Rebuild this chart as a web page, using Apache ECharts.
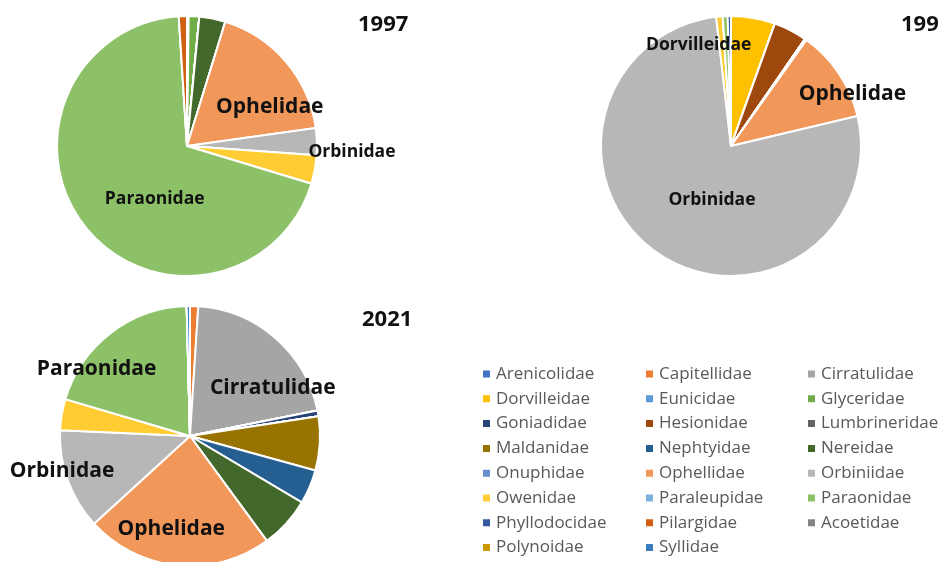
<!DOCTYPE html>
<html>
<head>
<meta charset="utf-8">
<script src="https://cdn.jsdelivr.net/npm/echarts@6/dist/echarts.min.js"></script>
<style>
  html, body { margin: 0; padding: 0; background: #fff; }
  #chart { width: 940px; height: 562px; }
</style>
</head>
<body>
<div id="chart"></div>
<script>
// families, in the order the slices run (clockwise from 12 o'clock)
var categories = [
  "Arenicolidae", "Capitellidae", "Cirratulidae", "Dorvilleidae", "Eunicidae",
  "Glyceridae", "Goniadidae", "Hesionidae", "Lumbrineridae", "Maldanidae",
  "Nephtyidae", "Nereidae", "Onuphidae", "Ophellidae", "Orbiniidae",
  "Owenidae", "Paraleupidae", "Paraonidae", "Phyllodocidae", "Pilargidae",
  "Acoetidae", "Polynoidae", "Syllidae"
];
var colors = [
  "#4472C4", "#ED7D31", "#A5A5A5", "#FFC000", "#5B9BD5",
  "#70AD47", "#264478", "#9E480E", "#636363", "#997300",
  "#255E91", "#43682B", "#698ED0", "#F1975A", "#B7B7B7",
  "#FFCD33", "#7CAFDD", "#8CC168", "#335AA1", "#D26012",
  "#848484", "#CC9A00", "#3A7CC0"
];

// share of individuals (%)
var values1997 = [0, 0, 0, 0.2, 0, 1.3, 0, 0, 0, 0, 0, 3.2, 0, 17.8, 3.3, 3.5, 0, 68.4, 0, 1.0, 0, 0, 0];
var values199x = [0, 0, 0, 5.4, 0, 0, 0, 4.1, 0, 0, 0, 0, 0.2, 11.3, 75.8, 0.8, 0, 0.6, 0.4, 0, 0, 0, 0];
var values2021 = [0, 1.0, 20.5, 0, 0, 0, 0.7, 0, 0, 6.6, 4.2, 6.3, 0, 22.9, 12.3, 3.8, 0, 19.7, 0, 0, 0, 0, 0.4];

// slice labels as written on the figure
var labels1997 = { Ophellidae: "Ophelidae", Orbiniidae: "Orbinidae", Paraonidae: "Paraonidae" };
var labels199x = { Dorvilleidae: "Dorvilleidae", Ophellidae: "Ophelidae", Orbiniidae: "Orbinidae" };
var labels2021 = { Paraonidae: "Paraonidae", Cirratulidae: "Cirratulidae", Orbiniidae: "Orbinidae", Ophellidae: "Ophelidae" };

var titles = ["1997", "199", "2021"];

var FONT = "'Open Sans', 'DejaVu Sans', sans-serif";

function buildData(values, labels, sizes) {
  return categories.map(function (name, i) {
    var item = { name: name, value: values[i] };
    if (labels[name]) {
      item.label = {
        show: true,
        position: "inside",
        formatter: labels[name],
        fontSize: sizes[name],
        fontWeight: "bold",
        fontFamily: FONT,
        color: "#111"
      };
    }
    return item;
  });
}

// label nudges, so text sits where it sits on the figure
function shift(offsets) {
  return function (params) {
    var o = offsets[categories[params.dataIndex]];
    return o ? { dx: o[0], dy: o[1] } : {};
  };
}

function pie(center, values, labels, sizes, offsets) {
  return {
    type: "pie",
    center: center,
    radius: 130,
    startAngle: 90,
    clockwise: true,
    avoidLabelOverlap: false,
    label: { show: false },
    labelLine: { show: false },
    emphasis: { disabled: true },
    itemStyle: { borderColor: "#fff", borderWidth: 2 },
    labelLayout: shift(offsets),
    data: buildData(values, labels, sizes)
  };
}

// three legend columns, filled row by row like the original
var columns = [[], [], []];
categories.forEach(function (name, i) { columns[i % 3].push(name); });
var legendLefts = [481, 644, 806];

var chart = echarts.init(document.getElementById("chart"), null, { renderer: "canvas" });
chart.setOption({
  animation: false,
  color: colors,
  title: [
    { text: titles[0], left: 353, top: 9 },
    { text: titles[1], left: 896, top: 9 },
    { text: titles[2], left: 357, top: 304 }
  ].map(function (t) {
    t.textStyle = { fontSize: 22, fontWeight: "bold", fontFamily: FONT, color: "#111" };
    return t;
  }),
  legend: columns.map(function (col, k) {
    return {
      orient: "vertical",
      left: legendLefts[k],
      top: 364,
      height: 230,
      padding: 0,
      itemWidth: 9,
      itemHeight: 9,
      itemGap: 4.8,
      icon: "rect",
      selectedMode: false,
      data: col,
      textStyle: { fontSize: 17, fontFamily: FONT, color: "#595959", lineHeight: 20 }
    };
  }),
  series: [
    pie([187, 146], values1997, labels1997,
      { Ophellidae: 21, Orbiniidae: 17.5, Paraonidae: 17.5 },
      { Ophellidae: [31, 5], Orbiniidae: [97, 8], Paraonidae: [21, 11] }),
    pie([731, 146], values199x, labels199x,
      { Dorvilleidae: 17.5, Ophellidae: 21, Orbiniidae: 17.5 },
      { Dorvilleidae: [-44, -34], Ophellidae: [65, -14], Orbiniidae: [20, -2] }),
    pie([190, 436], values2021, labels2021,
      { Paraonidae: 21, Cirratulidae: 21, Orbiniidae: 21, Ophellidae: 21 },
      { Paraonidae: [-52, -13], Cirratulidae: [38, 3], Orbiniidae: [-64, 12], Ophellidae: [-12, 25] })
  ]
});
</script>
</body>
</html>
